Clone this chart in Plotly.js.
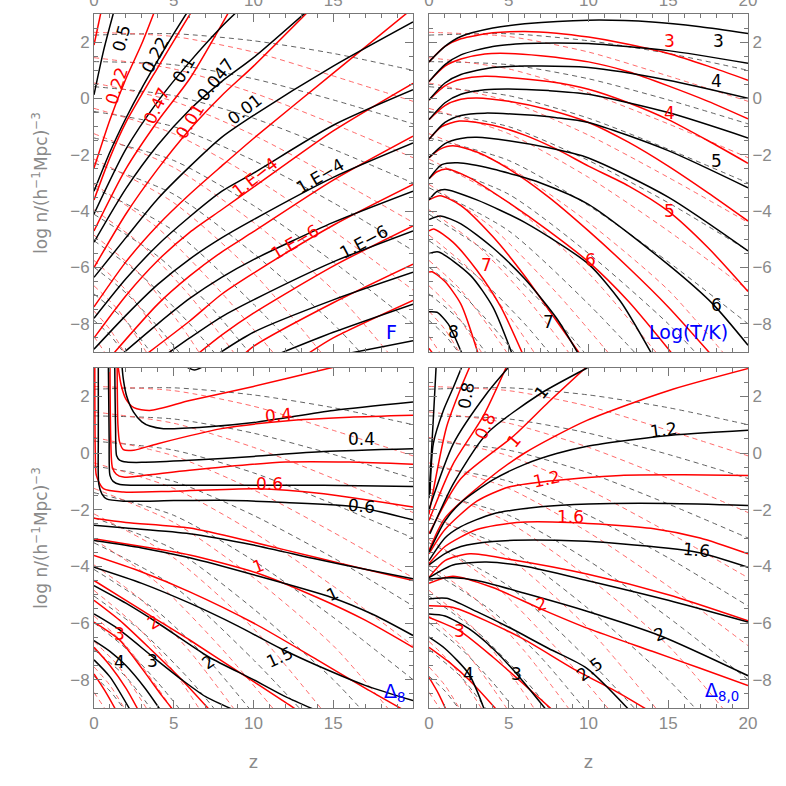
<!DOCTYPE html>
<html>
<head>
<meta charset="utf-8">
<script src="https://cdn.plot.ly/plotly-3.0.1.min.js"></script>
<style>html,body{margin:0;padding:0;background:#fff;}#plot{width:786px;height:786px;}</style>
</head>
<body>
<div id="plot"></div>
<script>
// ---------- DATA (z, log n) ----------
// Dashed curves (shared by all four panels)
const dashBlack = [
 [[0,2.25],[5,2.3],[10,2.05],[15,1.6],[20,1.0]],
 [[0,1.31],[5,1.2],[10,0.7],[15,-0.05],[20,-0.9]],
 [[0,0.42],[5,0.1],[10,-0.7],[15,-1.8],[20,-3.0]],
 [[0,-0.46],[5,-1.0],[10,-2.2],[15,-3.7],[20,-5.4]],
 [[0,-1.4],[5,-2.2],[10,-3.8],[15,-5.8],[20,-8.0]],
 [[0,-2.29],[5,-3.4],[10,-5.5],[15,-8.0],[17,-9.2]],
 [[0,-3.17],[5,-4.7],[10,-7.3],[13.2,-9.2]],
 [[0,-4.11],[4,-5.6],[7,-7.2],[10,-9.2]],
 [[0,-5.05],[3,-6.3],[6,-8.0],[7.8,-9.2]],
 [[0,-5.99],[2,-6.9],[4,-8.1],[5.6,-9.2]],
 [[0,-6.94],[2,-7.9],[3.8,-9.2]],
 [[0,-7.88],[1,-8.4],[2.1,-9.2]]
];
const dashRed = [
 [[0,2.35],[5,2.2],[10,1.65],[15,0.8],[20,-0.1]],
 [[0,1.45],[5,1.05],[10,0.2],[15,-0.9],[20,-2.1]],
 [[0,0.55],[5,-0.1],[10,-1.3],[15,-2.8],[20,-4.4]],
 [[0,-0.35],[5,-1.25],[10,-2.8],[15,-4.7],[20,-6.8]],
 [[0,-1.25],[5,-2.45],[10,-4.4],[15,-6.8],[18.7,-9.2]],
 [[0,-2.15],[5,-3.7],[10,-6.2],[14.5,-9.2]],
 [[0,-3.05],[4,-4.6],[8,-6.9],[11.5,-9.2]],
 [[0,-3.95],[3,-5.2],[6,-7.0],[9,-9.2]],
 [[0,-4.85],[3,-6.3],[5.5,-8.1],[6.8,-9.2]],
 [[0,-5.75],[2,-6.8],[4,-8.3],[5.1,-9.2]],
 [[0,-6.65],[1.5,-7.5],[3.5,-9.2]],
 [[0,-7.55],[1,-8.2],[2.1,-9.2]],
 [[0,-8.45],[0.9,-9.2]]
];
// Panel F
const fBlack = [
 [[0,0.13],[0.6,1.7],[1.25,3.1]],
 [[0,-3.29],[1,-1.9],[2,-0.7],[3,0.37],[4,1.35],[5,2.3],[6,3.2]],
 [[0,-4.1],[2,-1.8],[4,-0.1],[6,1.3],[8,2.55],[9,3.1]],
 [[0,-5.1],[2,-3.2],[4,-1.65],[6,-0.4],[8,0.6],[10,1.45],[13.3,3.07]],
 [[0,-6.35],[2,-4.94],[4,-3.56],[6,-2.42],[8,-1.38],[10,-0.6],[15,1.15],[20,2.72]],
 [[0,-7.8],[2,-6.4],[4,-5.2],[6,-4.2],[8,-3.3],[10,-2.65],[15,-0.95],[20,0.31]],
 [[0,-8.9],[2,-7.7],[4,-6.6],[6,-5.7],[8,-4.95],[10,-4.3],[15,-2.8],[20,-1.58]],
 [[1.5,-9.2],[4,-8.0],[6,-7.1],[8,-6.35],[10,-5.72],[15,-4.4],[20,-3.29]],
 [[4.5,-9.1],[6,-8.5],[8,-7.75],[10,-7.15],[15,-5.8],[20,-4.7]],
 [[7.7,-9.1],[10,-8.3],[15,-7.15],[20,-6.17]],
 [[11,-9.2],[15,-8.3],[20,-7.3]],
 [[15.5,-9.1],[20,-8.6]]
];
const fRed = [
 [[0,1.9],[0.45,3.1]],
 [[0,-2.47],[1,-0.75],[2,0.7],[3,1.95],[3.8,3.1]],
 [[0,-3.6],[1,-2.1],[2,-0.85],[4,1.1],[6.1,3.07]],
 [[0,-4.7],[2,-2.5],[4,-0.8],[6,0.7],[8.45,3.07]],
 [[0,-6.0],[2,-4.1],[4,-2.5],[6,-1.1],[8,0.1],[10,1.15],[13.4,3.07]],
 [[0,-7.4],[2,-5.8],[4,-4.5],[6,-3.4],[8,-2.4],[10,-1.42],[15,0.9],[19.7,3.07]],
 [[0,-8.5],[2,-7.0],[4,-5.75],[6,-4.75],[8,-3.95],[10,-3.15],[15,-1.15],[20,0.54]],
 [[1,-9.2],[4,-7.3],[6,-6.3],[8,-5.45],[10,-4.73],[15,-2.9],[20,-1.34]],
 [[3,-9.2],[6,-7.9],[8,-6.95],[10,-6.2],[15,-4.5],[20,-3.05]],
 [[6,-9.3],[8,-8.4],[10,-7.62],[15,-5.95],[20,-4.52]],
 [[9,-9.3],[10,-8.8],[15,-7.25],[20,-5.88]],
 [[13.3,-9.1],[15,-8.5],[20,-7.17]]
];
// Panel Log(T/K)
const tBlack = [
 [[0,1.3],[1,1.85],[2,2.2],[4,2.5],[6,2.65],[10,2.78],[14,2.72],[17,2.55],[20,2.31]],
 [[0,0.6],[1,1.2],[2,1.55],[4,1.85],[6,1.95],[8,1.97],[10,1.95],[15,1.7],[20,1.25]],
 [[0,-0.05],[1,0.55],[2,0.85],[4,1.1],[6,1.15],[10,1.1],[15,0.65],[20,0.01]],
 [[0,-0.75],[1,-0.15],[2,0.15],[3.5,0.31],[5,0.34],[7.5,0.28],[10,0.15],[15,-0.5],[20,-1.4]],
 [[0,-1.45],[1,-0.85],[2,-0.6],[3.5,-0.52],[6,-0.58],[8,-0.68],[10,-0.85],[15,-1.85],[20,-3.17]],
 [[0,-2.1],[1,-1.6],[2,-1.42],[3,-1.38],[5,-1.5],[7.5,-1.75],[10,-2.11],[15,-3.5],[20,-5.41]],
 [[0,-2.85],[0.8,-2.35],[1.8,-2.28],[4,-2.5],[7,-3.0],[10,-3.76],[15,-5.9],[17.8,-7.3],[20,-8.76]],
 [[0,-3.6],[0.5,-3.3],[1,-3.23],[3,-3.6],[6,-4.4],[10,-5.88],[12,-7.2],[14,-9.1]],
 [[0,-4.3],[0.7,-4.17],[2,-4.45],[4,-5.3],[6,-6.4],[8,-7.8],[9.4,-9.1]],
 [[0,-5.5],[0.6,-5.45],[2.6,-6.28],[4,-7.4],[5.2,-9.05]],
 [[0,-7.57],[0.5,-7.59],[1.2,-8.0],[2.1,-9.1]]
];
const tRed = [
 [[0,1.3],[1,1.85],[2,2.12],[4,2.33],[6,2.38],[8,2.32],[10,2.18],[12,1.98],[15,1.6],[17.5,1.15],[20,0.65]],
 [[0,0.6],[1,1.15],[2,1.4],[3.5,1.58],[5,1.6],[7,1.52],[10,1.3],[12.5,0.95],[15,0.45],[17.5,-0.1],[20,-0.72]],
 [[0,-0.05],[1,0.45],[2,0.68],[3.5,0.79],[5,0.75],[7.5,0.6],[10,0.33],[12.5,-0.15],[15,-0.75],[17.5,-1.5],[20,-2.3]],
 [[0,-0.75],[1,-0.25],[2,-0.03],[3,0.02],[5,-0.1],[7.5,-0.4],[10,-0.85],[12.5,-1.55],[15,-2.4],[17.5,-3.35],[20,-4.35]],
 [[0,-1.45],[0.8,-1.0],[1.9,-0.8],[4,-0.95],[6,-1.3],[8,-1.8],[10,-2.4],[12.5,-3.1],[15,-4.0],[17.5,-5.3],[20,-6.85]],
 [[0,-2.1],[0.7,-1.8],[1.5,-1.68],[3,-1.9],[5,-2.5],[7.5,-3.5],[10,-4.7],[12.5,-6.0],[15,-7.4],[17.7,-9.1]],
 [[0,-2.85],[0.5,-2.6],[1.1,-2.5],[2.5,-2.8],[5,-3.7],[7.5,-4.7],[10,-5.8],[12.5,-7.2],[15.3,-9.1]],
 [[0,-3.6],[0.7,-3.45],[2,-3.8],[4,-4.9],[6,-6.3],[8,-7.9],[9.5,-9.1]],
 [[0,-4.7],[0.3,-4.63],[1.5,-5.1],[3,-6.1],[4.5,-7.4],[5.9,-9.1]],
 [[0,-6.16],[0.2,-6.15],[1,-6.5],[2,-7.3],[3.1,-9.1]],
 [[0,-8.87],[0.3,-9.1]]
];
// Panel Delta_8
const dBlack = [
 [[5.6,3.1],[6.3,2.93],[7.0,3.1]],
 [[1.75,3.1],[1.84,2.6],[2.05,2.0],[2.47,1.45],[3.0,1.1],[3.5,0.95],[4.35,0.86],[7,0.92],[10.2,1.09],[15,1.5],[20,1.8]],
 [[1.3,3.1],[1.35,1.0],[1.42,-0.1],[1.6,-0.25],[2.05,-0.32],[3,-0.33],[6,-0.26],[10,-0.12],[14.4,0.05],[20,0.15]],
 [[0.9,3.1],[0.95,0.5],[1.0,-0.79],[1.2,-1.0],[1.63,-1.11],[3,-1.14],[6,-1.14],[14.4,-1.14],[20,-1.18]],
 [[0.27,3.1],[0.27,0.5],[0.3,-1.1],[0.5,-1.45],[0.79,-1.62],[1.84,-1.7],[5,-1.68],[8.1,-1.67],[12,-1.75],[16.5,-1.91],[20,-2.36]],
 [[0,-2.55],[2,-2.65],[6,-2.85],[10,-3.25],[14,-3.75],[17,-4.1],[20,-4.44]],
 [[0,-3.09],[3,-3.35],[6,-3.7],[10,-4.3],[14.9,-5.1],[17.5,-5.7],[20,-6.44]],
 [[0,-4.03],[3,-4.6],[6,-5.3],[9,-6.1],[11.7,-6.9],[14,-7.5],[17,-8.2],[20,-8.74]],
 [[0,-4.68],[2,-5.3],[4,-6.0],[7.2,-7.2],[10,-8.0],[12,-8.6],[14,-9.1]],
 [[0,-5.68],[1.5,-6.2],[3.7,-7.2],[5.5,-8.0],[7,-8.6],[8.9,-9.1]],
 [[0,-6.62],[1,-7.0],[2,-7.5],[3.2,-8.3],[4.2,-9.1]],
 [[0,-7.3],[1,-7.9],[2.3,-9.1]]
];
const dRed = [
 [[1.5,3.1],[1.7,2.4],[2.0,1.9],[2.5,1.6],[3.5,1.5],[6,1.85],[10,2.35],[14.8,3.0],[15.5,3.1]],
 [[1.45,3.1],[1.5,1.0],[1.6,0.4],[1.84,0.12],[2.5,0.1],[4,0.33],[8,0.86],[12,1.13],[16,1.26],[20,1.33]],
 [[1.0,3.1],[1.05,0.5],[1.15,-0.5],[1.4,-0.75],[1.84,-0.85],[3,-0.8],[6,-0.61],[12,-0.32],[16,-0.32],[20,-0.4]],
 [[0.05,3.1],[0.08,0],[0.15,-0.8],[0.59,-1.26],[1.84,-1.38],[5,-1.35],[10.2,-1.26],[14.4,-1.44],[20,-1.91]],
 [[0,-2.3],[2,-2.45],[6,-2.65],[10,-3.15],[14,-3.7],[17,-4.1],[20,-4.5]],
 [[0,-3.03],[3,-3.3],[6,-3.6],[10.3,-4.25],[14,-5.1],[17,-5.9],[20,-6.86]],
 [[0,-3.62],[3,-4.2],[6,-4.9],[10,-6.0],[14,-7.3],[17,-8.3],[19.5,-9.1]],
 [[0,-4.5],[2,-5.2],[3.7,-5.8],[6,-6.6],[9,-7.7],[12,-8.8],[12.8,-9.1]],
 [[0,-5.2],[1.6,-5.9],[3.5,-6.9],[5.5,-8.0],[7.3,-9.1]],
 [[0,-5.97],[1.6,-6.6],[3,-7.6],[4.3,-8.6],[5,-9.1]],
 [[0,-6.86],[1,-7.5],[2,-8.3],[2.8,-9.1]],
 [[0,-7.8],[0.8,-8.5],[1.4,-9.1]]
];
// Panel Delta_8,0
const eBlack = [
 [[0.0,-1.6],[0.15,0],[0.3,1.5],[0.45,3.1]],
 [[0.06,-1.44],[0.27,0.33],[0.9,1.5],[1.53,2.32],[2.1,3.1]],
 [[0,-1.99],[1.53,0.33],[3.62,2.1],[5.1,3.1]],
 [[0.06,-2.85],[1.53,-1.08],[3.62,0.68],[7.0,2.1],[9.9,3.0],[10.2,3.1]],
 [[0,-3.5],[1,-2.4],[2,-1.75],[4,-0.95],[6,-0.4],[8,-0.02],[10,0.25],[14.7,0.6],[20,0.8]],
 [[0,-3.8],[1,-3.0],[2,-2.6],[4,-2.15],[7,-1.9],[10,-1.8],[15,-1.78],[20,-1.85]],
 [[0,-3.95],[1,-3.55],[2,-3.3],[4,-3.12],[8,-3.08],[12,-3.2],[16.8,-3.5],[20,-4.03]],
 [[0,-4.4],[1.5,-3.95],[3.6,-3.85],[6,-4.0],[9.9,-4.5],[15,-5.2],[20,-5.97]],
 [[0,-4.45],[1.5,-4.4],[3,-4.5],[6,-4.95],[10,-5.6],[14.5,-6.45],[20,-7.86]],
 [[0,-5.15],[1.1,-5.13],[3,-5.6],[5,-6.15],[7.5,-6.9],[9.9,-7.6],[12.6,-9.1]],
 [[0,-5.68],[1,-5.75],[2.5,-6.2],[4,-6.9],[5.5,-7.8],[7.4,-9.1]],
 [[0,-6.5],[1,-6.9],[2.5,-7.8],[3.5,-9.1]]
];
const eRed = [
 [[0,-2.15],[1.1,0.92],[2,2.3],[2.6,3.1]],
 [[0,-2.38],[1.5,-0.4],[3.4,1.3],[4.9,3.1]],
 [[0,-2.85],[2,-0.9],[5.3,0.6],[7.5,1.8],[9.9,3.05]],
 [[0,-3.44],[1,-2.3],[3.6,-0.97],[6,0.0],[9.9,1.15],[15,2.2],[20,2.98]],
 [[0,-3.56],[1,-2.7],[3,-1.7],[5,-1.2],[7.4,-1.0],[12,-0.79],[16,-0.77],[20,-0.79]],
 [[0,-3.91],[1,-3.3],[3,-2.7],[5.5,-2.45],[8.8,-2.45],[14.1,-2.67],[17,-3.0],[20,-3.56]],
 [[0,-4.39],[1,-3.8],[2.57,-3.56],[5,-3.75],[9.9,-4.27],[15,-5.0],[20,-5.92]],
 [[0,-4.6],[1.5,-4.35],[4,-4.75],[7,-5.5],[10,-6.2],[14,-7.0],[17,-7.6],[20,-8.21]],
 [[0,-5.39],[1.53,-5.45],[5.7,-6.5],[9,-7.6],[12,-8.5],[13.8,-9.1]],
 [[0,-5.8],[1.9,-6.27],[4,-7.2],[5.7,-8.04],[7.8,-9.1]],
 [[0,-6.86],[1.3,-7.4],[2.57,-8.04],[4.3,-9.1]],
 [[0,-7.92],[0.6,-8.5],[1.1,-9.1]]
];
// Contour labels: [text, z, logn, series, angle]
const fLabels = [
 ['0.5',1.73,2.14,'k',-75],['0.22',3.82,1.55,'k',-62],['0.1',5.6,1.02,'k',-60],
 ['0.047',7.59,0.67,'k',-52],['0.01',9.47,-0.39,'k',-38],['1.E\u22124',14.17,-2.74,'k',-30],
 ['1.E\u22126',16.9,-5.1,'k',-28],
 ['0.22',1.42,0.44,'r',-72],['0.47',3.93,-0.27,'r',-65],['0.01',6.02,-0.8,'r',-58],
 ['1.E\u22124',10.1,-2.8,'r',-38],['1.E\u22126',12.6,-5.1,'r',-30]
];
const tLabels = [
 ['3',15.1,2.03,'r',0],['3',18.14,2.03,'k',0],['4',18.04,0.61,'k',0],['4',15.1,-0.51,'r',0],
 ['5',18.04,-2.21,'k',0],['5',15.1,-3.98,'r',0],['6',10.1,-5.75,'r',0],['7',3.62,-5.92,'r',0],
 ['6',18.04,-7.34,'k',0],['7',7.48,-7.93,'k',0],['8',1.53,-8.28,'k',0]
];
const dLabels = [
 ['0.4',11.56,1.33,'r',-5],['0.4',16.78,0.5,'k',0],['0.6',11.03,-1.09,'r',0],['0.6',16.78,-1.88,'k',5],
 ['1',10.3,-4.0,'r',-20],['1',14.94,-4.97,'k',-25],['2',3.72,-5.97,'r',-30],['1.5',11.66,-7.19,'k',-25],
 ['3',1.59,-6.39,'r',0],['2',7.17,-7.39,'k',-35],['3',3.68,-7.33,'k',0],['4',1.59,-7.39,'k',0]
];
const eLabels = [
 ['0.8',2.36,2.03,'k',-80],['0.8',3.51,0.97,'r',-65],['1',7.06,2.15,'k',-50],['1',5.29,0.44,'r',-50],
 ['1.2',14.69,0.8,'k',-8],['1.2',7.38,-0.91,'r',-12],['1.6',8.84,-2.26,'r',0],['1.6',16.78,-3.44,'k',5],
 ['2',7.06,-5.33,'r',-12],['2',14.48,-6.39,'k',-20],['2.5',10.09,-7.62,'k',-35],['3',5.5,-7.8,'k',0],
 ['4',2.47,-7.8,'k',0],['3',1.94,-6.27,'r',0]
];
const panelNames = ['F','Log(T/K)','\u0394<sub>8</sub>','\u0394<sub>8,0</sub>'];
const panelNamePos = [[18.66,-8.28],[16.26,-8.28],[18.87,-8.45],[18.35,-8.4]];
const xTicksLeft = [0,5,10,15];
const xTicksRight = [0,5,10,15,20];

// ---------- BUILD ----------
function lineTrace(curves, xa, ya, color, width, dash) {
  const x = [], y = [];
  curves.forEach(c => { c.forEach(p => { x.push(p[0]); y.push(p[1]); }); x.push(null); y.push(null); });
  return {type:'scatter', mode:'lines', x:x, y:y, xaxis:xa, yaxis:ya, connectgaps:false,
          hoverinfo:'skip', line:{color:color, width:width, dash:dash, shape:'spline', smoothing:0.7}};
}
const panels = [
  {xa:'x', ya:'y', k:fBlack, r:fRed, lab:fLabels},
  {xa:'x2', ya:'y2', k:tBlack, r:tRed, lab:tLabels},
  {xa:'x3', ya:'y3', k:dBlack, r:dRed, lab:dLabels},
  {xa:'x4', ya:'y4', k:eBlack, r:eRed, lab:eLabels}
];
const traces = [];
const annotations = [];
const labelFont = 'DejaVu Sans, sans-serif';
panels.forEach((p, i) => {
  traces.push(lineTrace(dashBlack, p.xa, p.ya, '#505050', 0.9, '5px,4px'));
  traces.push(lineTrace(dashRed, p.xa, p.ya, '#ff5a5a', 0.9, '5px,4px'));
  traces.push(lineTrace(p.r, p.xa, p.ya, '#ff0000', 1.5, 'solid'));
  traces.push(lineTrace(p.k, p.xa, p.ya, '#000000', 1.5, 'solid'));
  p.lab.forEach(l => {
    annotations.push({x:l[1], y:l[2], xref:p.xa, yref:p.ya, text:l[0], showarrow:false,
      textangle:l[4], font:{family:labelFont, size:17, color:l[3]==='k'?'#000000':'#ff0000'}});
  });
  annotations.push({x:panelNamePos[i][0], y:panelNamePos[i][1], xref:p.xa, yref:p.ya, text:panelNames[i],
    showarrow:false, font:{family:labelFont, size:19, color:'#0000ff'}});
});

const axisLine = '#777777';
const tickFont = {family:'Liberation Sans, Arial, sans-serif', size:17, color:'#8a8a8a'};
function xAxis(domain, anchor, side, vals, title) {
  const a = {domain:domain, anchor:anchor, side:side, range:[0,20], tickvals:vals, ticktext:vals.map(String),
    showgrid:false, zeroline:false, showline:true, linecolor:axisLine, linewidth:1, mirror:'allticks',
    ticks:'inside', ticklen:8, tickcolor:axisLine, tickfont:tickFont,
    minor:{tickvals:[1,2,3,4,6,7,8,9,11,12,13,14,16,17,18,19], ticks:'inside', ticklen:4, tickcolor:axisLine}};
  if (title) a.title = {text:title, font:{family:'Liberation Sans, Arial, sans-serif', size:19, color:'#8a8a8a'}, standoff:22};
  return a;
}
function yAxis(domain, anchor, side, title) {
  const a = {domain:domain, anchor:anchor, side:side, range:[-9,3], tickvals:[-8,-6,-4,-2,0,2],
    showgrid:false, zeroline:false, showline:true, linecolor:axisLine, linewidth:1, mirror:'allticks',
    ticks:'inside', ticklen:8, tickcolor:axisLine, tickfont:tickFont,
    minor:{dtick:0.5, tick0:0, ticks:'inside', ticklen:4, tickcolor:axisLine}};
  if (title) a.title = {text:title, font:{family:'DejaVu Sans, sans-serif', size:17, color:'#8a8a8a'}, standoff:18};
  return a;
}
const xL = [94/786, 413/786], xR = [429/786, 748/786];
const yT = [(786-352)/786, (786-14)/786], yB = [(786-708)/786, (786-368)/786];
const yTitle = 'log n/(h<sup>\u22121</sup>Mpc)<sup>\u22123</sup>';
const layout = {
  width:786, height:786, margin:{l:0, r:0, t:0, b:0}, showlegend:false,
  paper_bgcolor:'#ffffff', plot_bgcolor:'#ffffff',
  xaxis: xAxis(xL, 'y', 'top', xTicksLeft, null),
  xaxis2: xAxis(xR, 'y2', 'top', xTicksRight, null),
  xaxis3: xAxis(xL, 'y3', 'bottom', xTicksLeft, 'z'),
  xaxis4: xAxis(xR, 'y4', 'bottom', xTicksRight, 'z'),
  yaxis: yAxis(yT, 'x', 'left', yTitle),
  yaxis2: yAxis(yT, 'x2', 'right', null),
  yaxis3: yAxis(yB, 'x3', 'left', yTitle),
  yaxis4: yAxis(yB, 'x4', 'right', null),
  annotations: annotations
};
Plotly.newPlot('plot', traces, layout, {staticPlot:true, displayModeBar:false});
</script>
</body>
</html>
